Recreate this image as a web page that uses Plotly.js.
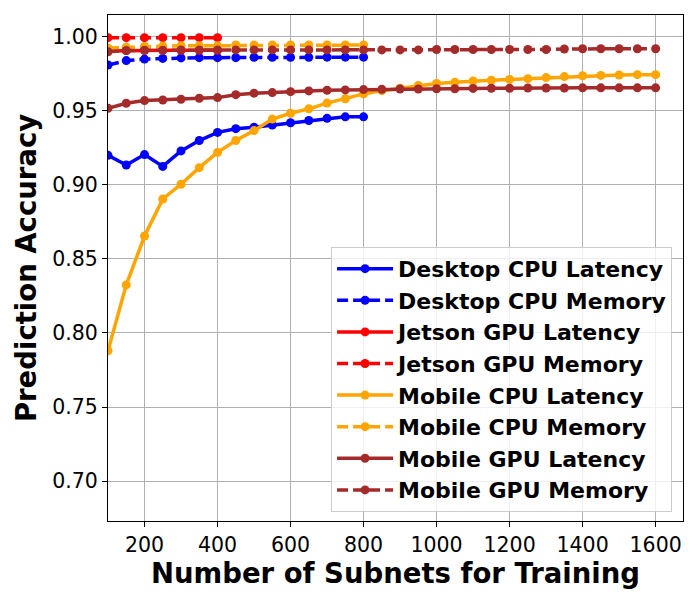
<!DOCTYPE html>
<html>
<head>
<meta charset="utf-8">
<script src="https://cdn.plot.ly/plotly-3.0.1.min.js"></script>
<style>html,body{margin:0;padding:0;background:#fff;}#chart{width:700px;height:600px;}</style>
</head>
<body>
<div id="chart"></div>
<script>
const xDesktop = [100,150,200,250,300,350,400,450,500,550,600,650,700,750,800];
const xJetson = [100,150,200,250,300,350,400];
const xMobile = [100,150,200,250,300,350,400,450,500,550,600,650,700,750,800,850,900,950,1000,1050,1100,1150,1200,1250,1300,1350,1400,1450,1500,1550,1600];
const xMobileCpuMem = [100,150,200,250,300,350,400,450,500,550,600,650,700,750,800];

const desktopCpuLatency = [0.920,0.9135,0.9205,0.9125,0.923,0.930,0.9355,0.938,0.939,0.9405,0.942,0.9435,0.945,0.946,0.946];
const desktopCpuMemory = [0.981,0.984,0.985,0.9855,0.9858,0.986,0.986,0.986,0.9862,0.9862,0.9862,0.9862,0.9863,0.9863,0.9863];
const jetsonGpuLatency = [0.9905,0.9908,0.991,0.991,0.991,0.991,0.991];
const jetsonGpuMemory = [0.9995,0.9995,0.9995,0.9995,0.9995,0.9995,0.9995];
const mobileCpuLatency = [0.788,0.8325,0.8655,0.8905,0.9005,0.9117,0.922,0.930,0.9367,0.9445,0.9484,0.9514,0.9553,0.9582,0.9615,0.9637,0.9653,0.9672,0.9685,0.9693,0.9702,0.9707,0.9713,0.9718,0.9725,0.9732,0.9738,0.9740,0.9743,0.9745,0.9745];
const mobileCpuMemory = [0.9925,0.993,0.9935,0.9938,0.994,0.994,0.994,0.9945,0.9945,0.9945,0.9945,0.9945,0.9945,0.9945,0.9945];
const mobileGpuLatency = [0.9518,0.9552,0.957,0.9574,0.9579,0.9586,0.959,0.961,0.962,0.9624,0.963,0.9635,0.964,0.9642,0.9644,0.9646,0.9648,0.9648,0.965,0.965,0.9652,0.9653,0.9653,0.9655,0.9655,0.9655,0.9656,0.9656,0.9656,0.9656,0.9656];
const mobileGpuMemory = [0.990,0.9908,0.991,0.991,0.9912,0.9912,0.9912,0.9912,0.9912,0.9912,0.9912,0.9912,0.9912,0.9912,0.9912,0.9912,0.9912,0.9912,0.9915,0.9915,0.9915,0.9915,0.9915,0.9915,0.9915,0.9918,0.992,0.992,0.992,0.992,0.992];

const names = ["Desktop CPU Latency","Desktop CPU Memory","Jetson GPU Latency","Jetson GPU Memory","Mobile CPU Latency","Mobile CPU Memory","Mobile GPU Latency","Mobile GPU Memory"];
const colors = ["#0000ff","#0000ff","#ff0000","#ff0000","#ffa500","#ffa500","#a52a2a","#a52a2a"];
const xs = [xDesktop,xDesktop,xJetson,xJetson,xMobile,xMobileCpuMem,xMobile,xMobile];
const ys = [desktopCpuLatency,desktopCpuMemory,jetsonGpuLatency,jetsonGpuMemory,mobileCpuLatency,mobileCpuMemory,mobileGpuLatency,mobileGpuMemory];

const traces = names.map((n,i)=>({
  type:'scatter', mode:'lines+markers', name:n, x:xs[i], y:ys[i],
  line:{color:colors[i], width:3.5, dash: i%2===1 ? '11px,5px' : 'solid'},
  marker:{color:colors[i], size:9}
}));

const axisCommon = {
  showline:true, linecolor:'#000', linewidth:1.2, mirror:true,
  ticks:'outside', ticklen:5, tickwidth:1, tickcolor:'#000',
  showgrid:true, gridcolor:'#b0b0b0', gridwidth:1, zeroline:false,
  tickfont:{family:'DejaVu Sans', size:20.5, color:'#000'}
};

const layout = {
  width:700, height:600,
  margin:{l:108, r:17, t:15, b:79},
  paper_bgcolor:'#fff', plot_bgcolor:'#fff',
  showlegend:true,
  xaxis: Object.assign({}, axisCommon, {
    range:[100,1675], tickvals:[200,400,600,800,1000,1200,1400,1600],
    title:{text:'<b>Number of Subnets for Training</b>', font:{family:'DejaVu Sans', size:27.5, color:'#000'}, standoff:1}
  }),
  yaxis: Object.assign({}, axisCommon, {
    range:[0.673,1.0148], tickvals:[0.70,0.75,0.80,0.85,0.90,0.95,1.00], tickformat:'.2f',
    title:{text:'<b>Prediction Accuracy</b>', font:{family:'DejaVu Sans', size:27.5, color:'#000'}, standoff:7}
  }),
  legend:{
    x:0.981, y:0.018, xanchor:'right', yanchor:'bottom',
    bgcolor:'rgba(255,255,255,0.8)', bordercolor:'#cccccc', borderwidth:1,
    font:{family:'DejaVu Sans', size:22, color:'#000', weight:'bold'},
    tracegroupgap:0, itemwidth:56
  }
};

Plotly.newPlot('chart', traces, layout, {displayModeBar:false});
</script>
</body>
</html>
